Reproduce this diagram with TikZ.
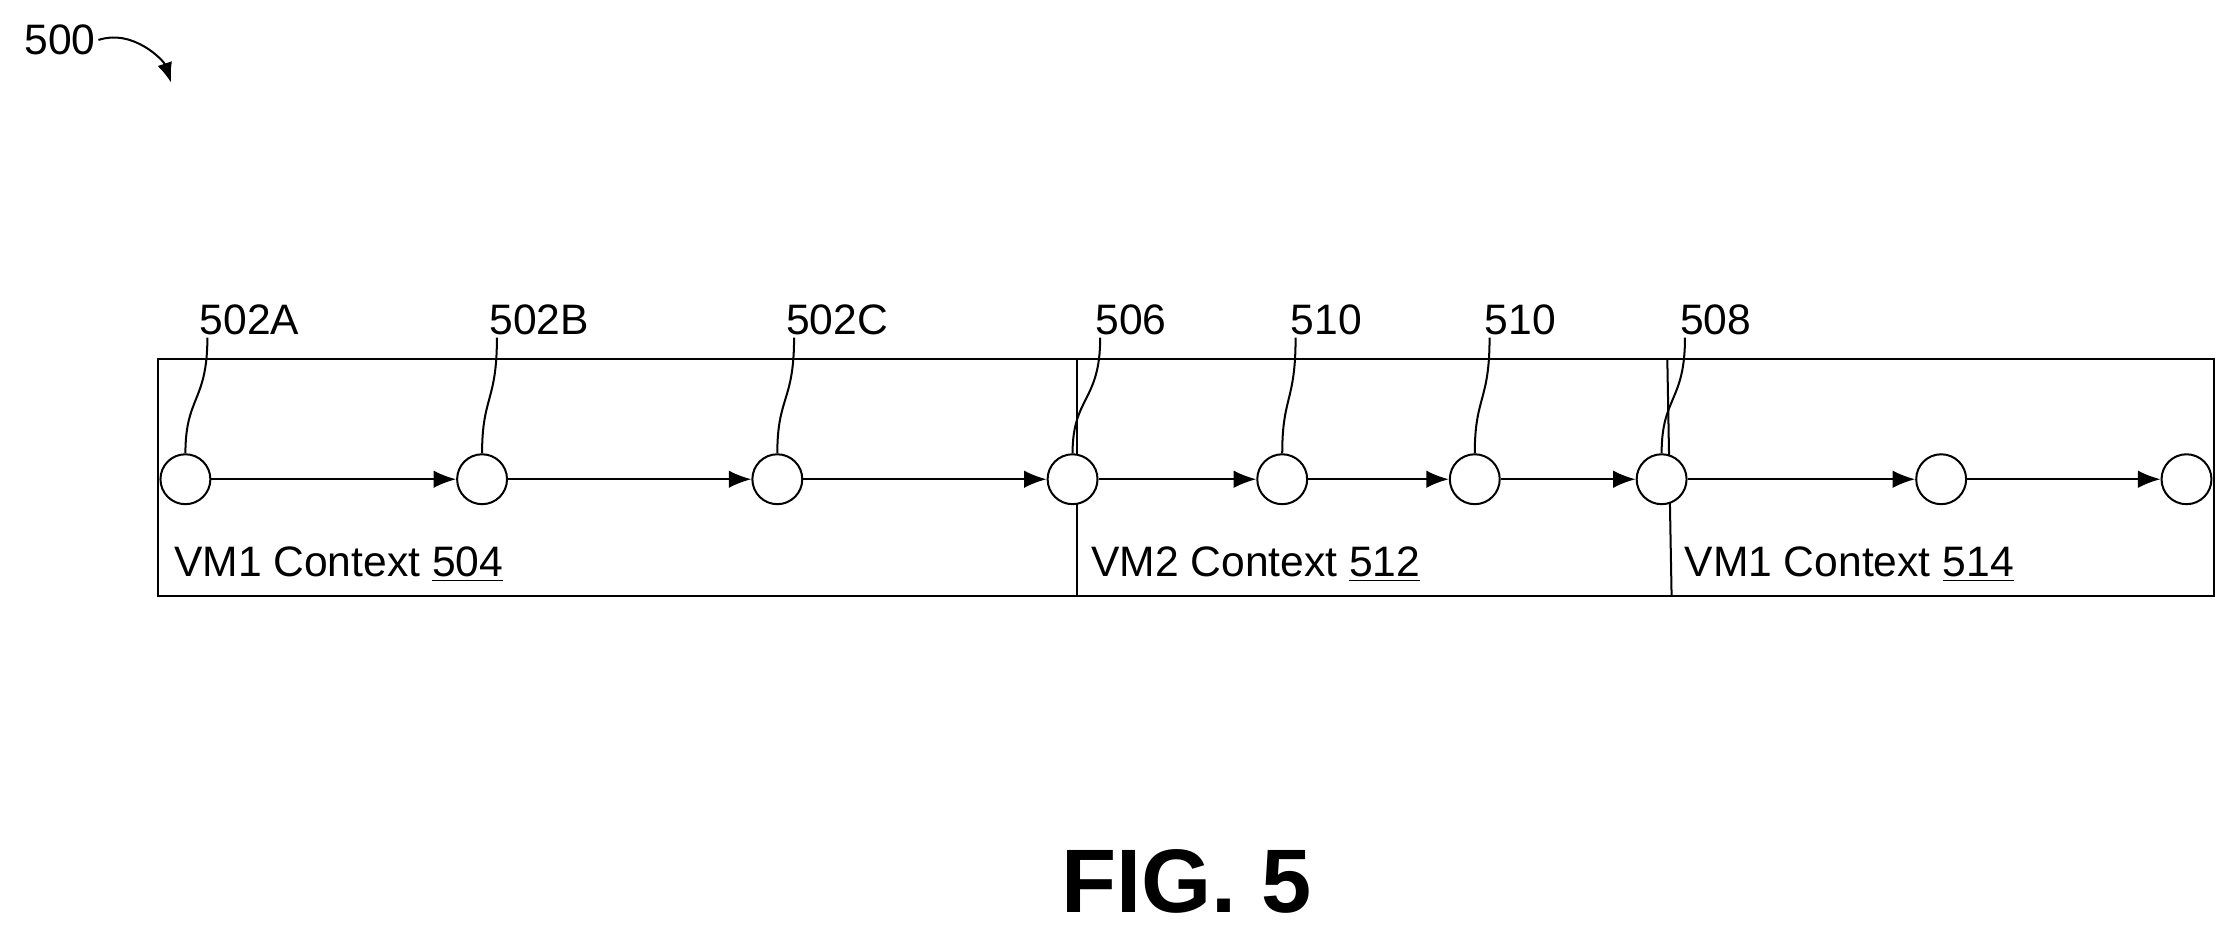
\documentclass[tikz,border=0pt]{standalone}
\usepackage{fontspec}
\setmainfont{Liberation Sans}
\usetikzlibrary{calc, arrows.meta}

\begin{document}
\begin{tikzpicture}[x=0.02cm, y=-0.02cm]
\tikzstyle{state}=[circle,draw,thick,fill=white,minimum size=0.7cm,inner sep=0pt]
\tikzstyle{tag}=[font=\fontsize{17}{20}\selectfont,inner sep=1pt]
\tikzstyle{flow}=[thick,-{Latex[length=9pt,width=7pt]}]
\useasboundingbox (0,0) rectangle (1560,652);
% frame and context dividers
\draw[thick] (111,252) rectangle (1552,418);
\draw[thick] (755,252) -- (755,418);
\draw[thick] (1169,252) -- (1172,418);
% states
\foreach \n/\x in {A/130,B/338,C/545,D/752,E/899,F/1034,G/1165,H/1361,I/1533}
  \node[state] (S_\n) at (\x,336) {};
\foreach \a/\b in {A/B,B/C,C/D,D/E,E/F,F/G,G/H,H/I}
  \draw[flow] (S_\a) -- (S_\b);
% reference labels
\foreach \n/\x/\t in {A/175/502A,B/378/502B,C/587/502C,D/793/506,E/930/510,F/1066/510,G/1203/508}{
  \node[tag] (L_\n) at (\x,224) {\t};
  \draw[thick] ($(L_\n.south west)!0.2!(L_\n.south)$) .. controls +(0,45) and ($(S_\n.north)+(0,-40)$) .. (S_\n.north);
}
\node[tag,anchor=west] (C_1) at (120,396) {VM1 Context \underline{504}};
\node[tag,anchor=west] (C_2) at (763,396) {VM2 Context \underline{512}};
\node[tag,anchor=west] (C_3) at (1179,396) {VM1 Context \underline{514}};
% figure number
\node[tag] (N_500) at (42,28) {500};
\coordinate (N_end) at (120,58);
\draw[thick,-{Latex[length=8pt,width=6pt]}] (N_500.east) .. controls +(25,-8) and +(-5,-15) .. (N_end);
\node[font=\fontsize{36}{40}\selectfont\bfseries] (fig) at (832,618) {FIG. 5};
\end{tikzpicture}
\end{document}
